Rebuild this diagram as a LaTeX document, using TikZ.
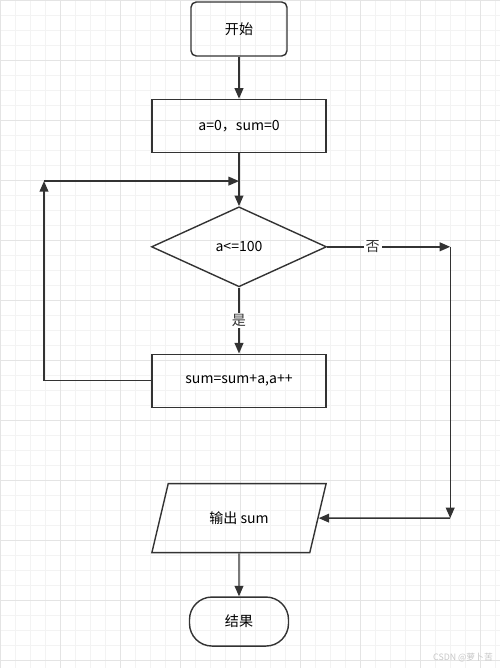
\documentclass[tikz,border=0pt]{standalone}
\usepackage{fontspec}
\setmainfont{Noto Sans CJK SC}
\usepackage{xcolor}
\usepackage{tikz}
\usetikzlibrary{positioning,arrows.meta,shapes.geometric}

\definecolor{flowline}{HTML}{333333}
\definecolor{gridminor}{HTML}{F3F3F3}
\definecolor{gridmajor}{HTML}{E4E4E4}

\begin{document}
\begin{tikzpicture}[
    font=\fontsize{8}{9.6}\selectfont,
    terminal/.style={
        rectangle,
        draw=flowline,
        line width=0.8pt,
        rounded corners=3pt,
        align=center,
        minimum width=1.92cm,
        minimum height=1.08cm
    },
    process/.style={
        rectangle,
        draw=flowline,
        line width=0.8pt,
        align=center,
        minimum width=3.48cm,
        minimum height=1.06cm
    },
    decision/.style={
        diamond,
        draw=flowline,
        line width=0.8pt,
        aspect=2.19,
        inner sep=0pt,
        minimum width=3.5cm,
        minimum height=1.6cm
    },
    io/.style={
        trapezium,
        trapezium left angle=71.6,
        trapezium right angle=108.4,
        trapezium stretches=true,
        draw=flowline,
        line width=0.8pt,
        minimum width=3.5cm,
        minimum height=1.38cm
    },
    finish/.style={
        rectangle,
        draw=flowline,
        line width=0.8pt,
        rounded corners=0.45cm,
        minimum width=1.98cm,
        minimum height=0.98cm
    },
    branch/.style={fill=white, inner sep=1pt, text=flowline},
    arrow/.style={-{Triangle[length=6pt,width=5pt]}, line width=0.8pt, draw=flowline}
]

% background grid
\useasboundingbox (0,0) rectangle (10,-13.36);
\draw[gridminor, line width=0.4pt] (0,-13.36) grid[step=0.3] (10,0);
\draw[gridmajor, line width=0.5pt] (0,-13.36) grid[step=1.2] (10,0);

\node[terminal] (start) at (4.78,-0.58) {开始};
\node[process, below=0.84cm of start] (init) {a=0，sum=0};
\coordinate[below=0.56cm of init] (join);
\node[decision, below=1.06cm of init] (cond) {a<=100};
\node[process, below=1.32cm of cond] (loop) {sum=sum+a,a++};
\node[io, below=1.5cm of loop] (output) {输出 sum};
\node[finish, below=0.86cm of output] (result) {结果};

\coordinate[left=3.9cm of join] (backtop);
\coordinate[right=2.46cm of cond] (notop);
\coordinate (nobot) at (notop |- output);

\draw[arrow] (start) -- (init);
\draw[arrow] (init) -- (cond);
\draw[arrow] (cond) -- node[branch] {是} (loop);
\draw[arrow] (loop.west) -| (backtop);
\draw[arrow] (backtop) -- (join);
\draw[arrow] (cond.east) -- node[branch, pos=0.37] {否} (notop);
\draw[arrow] (notop) -- (nobot);
\draw[arrow] (nobot) -- (output);
\draw[arrow] (output) -- (result);

\node[text=gray!45, font=\fontsize{5}{6}\selectfont, anchor=east] (mark) at (9.98,-13.16) {CSDN @萝卜苦};

\end{tikzpicture}
\end{document}
